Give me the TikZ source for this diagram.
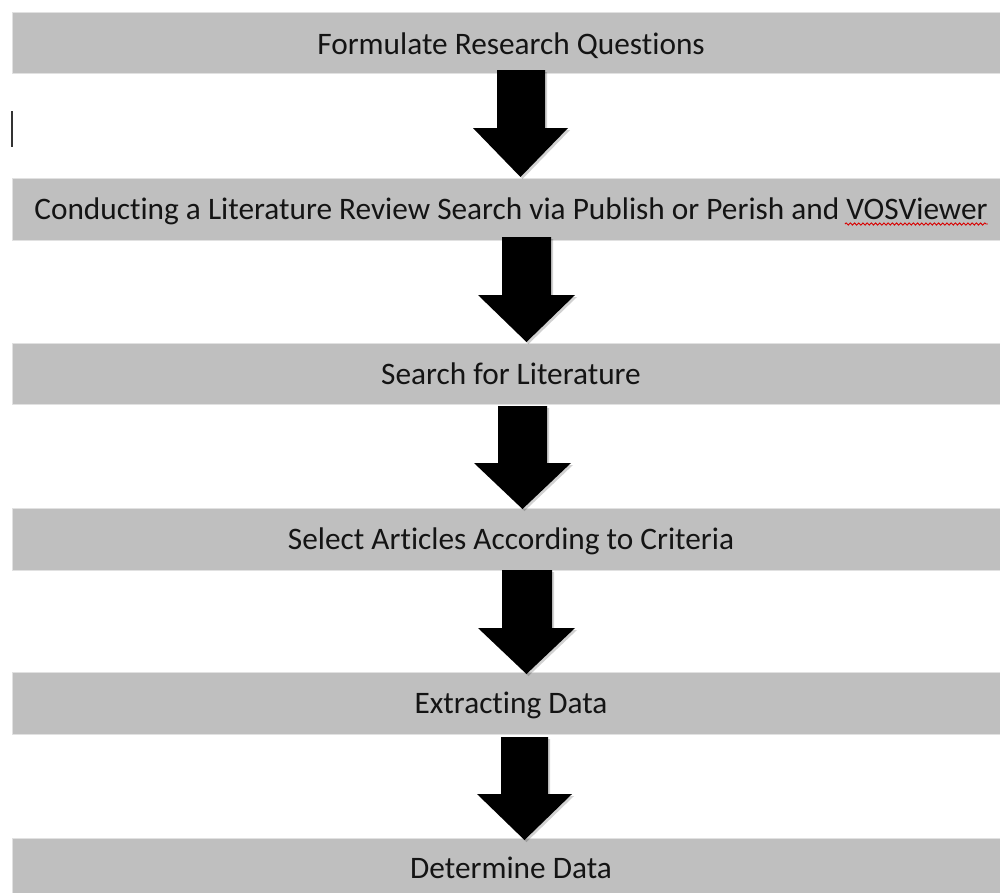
\documentclass[tikz,border=0pt]{standalone}
\usepackage{fontspec}
\setmainfont{Carlito}[Ligatures=NoCommon]
\usetikzlibrary{decorations.pathmorphing}
\definecolor{bargray}{RGB}{191,191,191}
\definecolor{bargedge}{RGB}{225,225,225}
\tikzset{
  x=1pt, y=-1pt,
  bar/.style={fill=bargray, draw=bargedge, line width=0.8pt, minimum width=990pt, inner sep=0pt, outer sep=0pt, anchor=north west},
  label/.style={anchor=base, inner sep=0pt, font=\fontsize{31.3}{36}\selectfont, text=black!92},
  blockarrow/.style={fill=black},
  arrowshadow/.style={fill=black, opacity=0.18},
  squiggle/.style={draw=red!85!black, line width=0.9pt, decorate, decoration={snake, amplitude=1.1pt, segment length=4.2pt}},
}
% #1 shaft left, #2 shaft right, #3 shaft top, #4 head top, #5 head left, #6 head right, #7 tip y
\newcommand{\blockarrowpath}[7]{(#1,#3) -- (#2,#3) -- (#2,#4) -- (#6,#4) -- ({(#5+#6)/2},#7) -- (#5,#4) -- (#1,#4) -- cycle}
\begin{document}
\begin{tikzpicture}
\useasboundingbox (0,0) rectangle (1000,892);
% bars
\node[bar, minimum height=61pt] (b1) at (12,12) {};
\node[bar, minimum height=62pt] (b2) at (12,178) {};
\node[bar, minimum height=61pt] (b3) at (12,343) {};
\node[bar, minimum height=62pt] (b4) at (12,508) {};
\node[bar, minimum height=62pt] (b5) at (12,672) {};
\node[bar, minimum height=60pt] (b6) at (12,838) {};
% labels
\node[label] (t1) at (511,54) {Formulate Research Questions};
\node[label] (t2) at (511,219) {Conducting a Literature Review Search via Publish or Perish and VOSViewer};
\node[label] (t3) at (511,384) {Search for Literature};
\node[label] (t4) at (511,549) {Select Articles According to Criteria};
\node[label] (t5) at (511,713) {Extracting Data};
\node[label] (t6) at (511,878) {Determine Data};
% arrow shadows
\fill[arrowshadow] [xshift=2pt, yshift=-2pt] \blockarrowpath{497}{545}{70}{128}{473}{568}{177};
\fill[arrowshadow] [xshift=2pt, yshift=-2pt] \blockarrowpath{502}{551}{237}{295}{478}{575}{342};
\fill[arrowshadow] [xshift=2pt, yshift=-2pt] \blockarrowpath{498}{547}{406}{463}{474}{571}{509};
\fill[arrowshadow] [xshift=2pt, yshift=-2pt] \blockarrowpath{502}{552}{570}{628}{478}{575}{674};
\fill[arrowshadow] [xshift=2pt, yshift=-2pt] \blockarrowpath{501}{548}{737}{794}{477}{572}{840};
% arrows
\fill[blockarrow] \blockarrowpath{497}{545}{70}{128}{473}{568}{177};
\fill[blockarrow] \blockarrowpath{502}{551}{237}{295}{478}{575}{342};
\fill[blockarrow] \blockarrowpath{498}{547}{406}{463}{474}{571}{509};
\fill[blockarrow] \blockarrowpath{502}{552}{570}{628}{478}{575}{674};
\fill[blockarrow] \blockarrowpath{501}{548}{737}{794}{477}{572}{840};
% text cursor
\coordinate (c1) at (12,111);
\coordinate (c2) at (12,147);
\draw[line width=1.6pt, black!80] (c1) -- (c2);
% spell-check squiggle under VOSViewer
\coordinate (s1) at ([xshift=-143pt]t2.base east);
\coordinate (s2) at (t2.base east);
\draw[squiggle] ([yshift=-5pt]s1) -- ([yshift=-5pt]s2);
\end{tikzpicture}
\end{document}
